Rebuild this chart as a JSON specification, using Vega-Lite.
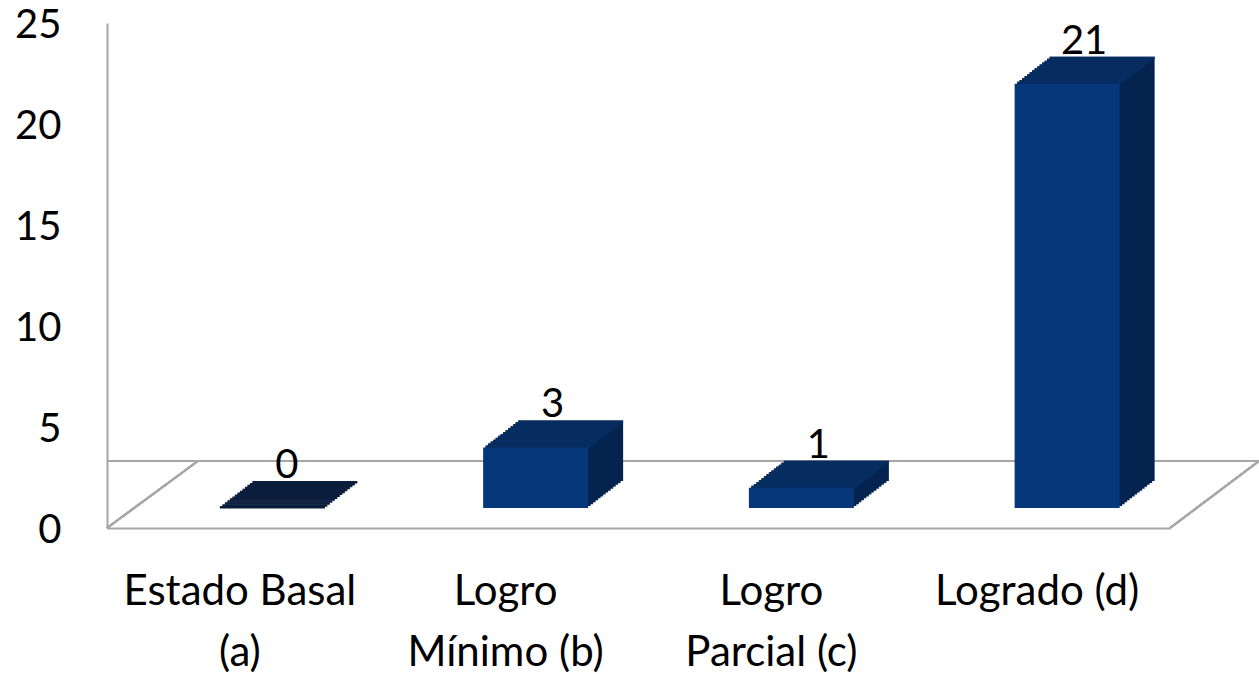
{
  "$schema": "https://vega.github.io/schema/vega-lite/v6.json",
  "width": 1063,
  "height": 505,
  "autosize": "none",
  "padding": {"left": 107, "top": 23, "right": 89, "bottom": 146},
  "background": "white",
  "config": {"view": {"stroke": null}, "font": "Lato"},
  "data": {"values": [
    {"cat": "Estado Basal (a)", "v": 0},
    {"cat": "Logro Mínimo (b)", "v": 3},
    {"cat": "Logro Parcial (c)", "v": 1},
    {"cat": "Logrado (d)", "v": 21}
  ]},
  "encoding": {
    "x": {"field": "cat", "type": "nominal", "sort": null,
      "scale": {"domain": ["Estado Basal (a)", "Logro Mínimo (b)", "Logro Parcial (c)", "Logrado (d)"], "paddingInner": 0, "paddingOuter": 0},
      "axis": {"title": null, "labelAngle": 0, "labelFontSize": 42, "labelFont": "Lato", "labelColor": "#000000", "labelLimit": 0,
        "labelPadding": 43, "labelLineHeight": 61, "ticks": false, "domainColor": "#a6a6a6", "domainWidth": 2,
        "labelExpr": "datum.value == 'Estado Basal (a)' ? ['Estado Basal', '(a)'] : datum.value == 'Logro Mínimo (b)' ? ['Logro', 'Mínimo (b)'] : datum.value == 'Logro Parcial (c)' ? ['Logro', 'Parcial (c)'] : datum.value"}},
    "y": {"field": "v", "type": "quantitative",
      "scale": {"domain": [0, 25], "nice": false},
      "axis": {"title": null, "values": [0, 5, 10, 15, 20, 25], "grid": false, "ticks": false, "labelFontSize": 40,
        "labelFont": "Lato", "labelColor": "#000000", "labelPadding": 46, "labelOffset": 2, "domainColor": "#a6a6a6", "domainWidth": 2}}
  },
  "layer": [
    {"mark": {"type": "rule", "color": "#a6a6a6", "strokeWidth": 2, "xOffset": 91, "x2Offset": 89, "yOffset": -67},
     "encoding": {"x": null, "y": {"datum": 0}}},
    {"mark": {"type": "rule", "color": "#a6a6a6", "strokeWidth": 2, "xOffset": -132.9, "x2Offset": -41.9, "y2Offset": -67},
     "encoding": {"x": {"datum": "Estado Basal (a)"}, "x2": {"datum": "Estado Basal (a)"}, "y": {"datum": 0}, "y2": {"datum": 0}}},
    {"mark": {"type": "rule", "color": "#a6a6a6", "strokeWidth": 2, "xOffset": 132.9, "x2Offset": 221.9, "y2Offset": -67},
     "encoding": {"x": {"datum": "Logrado (d)"}, "x2": {"datum": "Logrado (d)"}, "y": {"datum": 0}, "y2": {"datum": 0}}},

    {"mark": {"type": "bar", "width": 105, "color": "#05234f", "xOffset": 65, "yOffset": -47, "y2Offset": -47}},
    {"mark": {"type": "bar", "width": 105, "color": "#05234f", "xOffset": 62.5, "yOffset": -45.07, "y2Offset": -45.07}},
    {"mark": {"type": "bar", "width": 105, "color": "#05234f", "xOffset": 60, "yOffset": -43.14, "y2Offset": -43.14}},
    {"mark": {"type": "bar", "width": 105, "color": "#05234f", "xOffset": 57.5, "yOffset": -41.21, "y2Offset": -41.21}},
    {"mark": {"type": "bar", "width": 105, "color": "#05234f", "xOffset": 55, "yOffset": -39.29, "y2Offset": -39.29}},
    {"mark": {"type": "bar", "width": 105, "color": "#05234f", "xOffset": 52.5, "yOffset": -37.36, "y2Offset": -37.36}},
    {"mark": {"type": "bar", "width": 105, "color": "#05234f", "xOffset": 50, "yOffset": -35.43, "y2Offset": -35.43}},
    {"mark": {"type": "bar", "width": 105, "color": "#05234f", "xOffset": 47.5, "yOffset": -33.5, "y2Offset": -33.5}},
    {"mark": {"type": "bar", "width": 105, "color": "#05234f", "xOffset": 45, "yOffset": -31.57, "y2Offset": -31.57}},
    {"mark": {"type": "bar", "width": 105, "color": "#05234f", "xOffset": 42.5, "yOffset": -29.64, "y2Offset": -29.64}},
    {"mark": {"type": "bar", "width": 105, "color": "#05234f", "xOffset": 40, "yOffset": -27.71, "y2Offset": -27.71}},
    {"mark": {"type": "bar", "width": 105, "color": "#05234f", "xOffset": 37.5, "yOffset": -25.79, "y2Offset": -25.79}},
    {"mark": {"type": "bar", "width": 105, "color": "#05234f", "xOffset": 35, "yOffset": -23.86, "y2Offset": -23.86}},
    {"mark": {"type": "bar", "width": 105, "color": "#05234f", "xOffset": 32.5, "yOffset": -21.93, "y2Offset": -21.93}},

    {"mark": {"type": "bar", "width": 105, "xOffset": 65, "yOffset": -47, "y2Offset": -44.5},
     "encoding": {"y2": {"field": "v"}, "color": {"condition": {"test": "datum.v === 0", "value": "#0b1d3d"}, "value": "#072c60"}}},
    {"mark": {"type": "bar", "width": 105, "xOffset": 62.5, "yOffset": -45.07, "y2Offset": -42.57},
     "encoding": {"y2": {"field": "v"}, "color": {"condition": {"test": "datum.v === 0", "value": "#0b1d3d"}, "value": "#072c60"}}},
    {"mark": {"type": "bar", "width": 105, "xOffset": 60, "yOffset": -43.14, "y2Offset": -40.64},
     "encoding": {"y2": {"field": "v"}, "color": {"condition": {"test": "datum.v === 0", "value": "#0b1d3d"}, "value": "#072c60"}}},
    {"mark": {"type": "bar", "width": 105, "xOffset": 57.5, "yOffset": -41.21, "y2Offset": -38.71},
     "encoding": {"y2": {"field": "v"}, "color": {"condition": {"test": "datum.v === 0", "value": "#0b1d3d"}, "value": "#072c60"}}},
    {"mark": {"type": "bar", "width": 105, "xOffset": 55, "yOffset": -39.29, "y2Offset": -36.79},
     "encoding": {"y2": {"field": "v"}, "color": {"condition": {"test": "datum.v === 0", "value": "#0b1d3d"}, "value": "#072c60"}}},
    {"mark": {"type": "bar", "width": 105, "xOffset": 52.5, "yOffset": -37.36, "y2Offset": -34.86},
     "encoding": {"y2": {"field": "v"}, "color": {"condition": {"test": "datum.v === 0", "value": "#0b1d3d"}, "value": "#072c60"}}},
    {"mark": {"type": "bar", "width": 105, "xOffset": 50, "yOffset": -35.43, "y2Offset": -32.93},
     "encoding": {"y2": {"field": "v"}, "color": {"condition": {"test": "datum.v === 0", "value": "#0b1d3d"}, "value": "#072c60"}}},
    {"mark": {"type": "bar", "width": 105, "xOffset": 47.5, "yOffset": -33.5, "y2Offset": -31},
     "encoding": {"y2": {"field": "v"}, "color": {"condition": {"test": "datum.v === 0", "value": "#0b1d3d"}, "value": "#072c60"}}},
    {"mark": {"type": "bar", "width": 105, "xOffset": 45, "yOffset": -31.57, "y2Offset": -29.07},
     "encoding": {"y2": {"field": "v"}, "color": {"condition": {"test": "datum.v === 0", "value": "#0b1d3d"}, "value": "#072c60"}}},
    {"mark": {"type": "bar", "width": 105, "xOffset": 42.5, "yOffset": -29.64, "y2Offset": -27.14},
     "encoding": {"y2": {"field": "v"}, "color": {"condition": {"test": "datum.v === 0", "value": "#0b1d3d"}, "value": "#072c60"}}},
    {"mark": {"type": "bar", "width": 105, "xOffset": 40, "yOffset": -27.71, "y2Offset": -25.21},
     "encoding": {"y2": {"field": "v"}, "color": {"condition": {"test": "datum.v === 0", "value": "#0b1d3d"}, "value": "#072c60"}}},
    {"mark": {"type": "bar", "width": 105, "xOffset": 37.5, "yOffset": -25.79, "y2Offset": -23.29},
     "encoding": {"y2": {"field": "v"}, "color": {"condition": {"test": "datum.v === 0", "value": "#0b1d3d"}, "value": "#072c60"}}},
    {"mark": {"type": "bar", "width": 105, "xOffset": 35, "yOffset": -23.86, "y2Offset": -21.36},
     "encoding": {"y2": {"field": "v"}, "color": {"condition": {"test": "datum.v === 0", "value": "#0b1d3d"}, "value": "#072c60"}}},
    {"mark": {"type": "bar", "width": 105, "xOffset": 32.5, "yOffset": -21.93, "y2Offset": -19.43},
     "encoding": {"y2": {"field": "v"}, "color": {"condition": {"test": "datum.v === 0", "value": "#0b1d3d"}, "value": "#072c60"}}},

    {"mark": {"type": "bar", "width": 105, "color": "#05377a", "xOffset": 30, "yOffset": -20, "y2Offset": -20}},

    {"mark": {"type": "text", "font": "Lato", "fontSize": 40, "color": "#000000", "baseline": "alphabetic", "align": "center", "xOffset": 47, "yOffset": -50},
     "encoding": {"text": {"field": "v", "type": "quantitative"}}}
  ]
}
